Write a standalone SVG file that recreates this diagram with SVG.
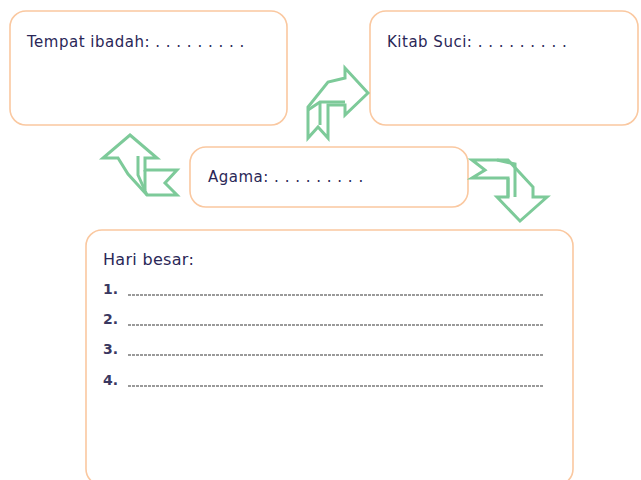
<svg xmlns="http://www.w3.org/2000/svg" width="641" height="480" viewBox="0 0 641 480">
<style>
.box{fill:#fff;stroke:#fac8a0;stroke-width:1.6}
.t{font-family:"DejaVu Sans",sans-serif;font-size:15px;letter-spacing:0.5px;fill:#2a2757}
.num{font-family:"DejaVu Sans",sans-serif;font-size:14px;font-weight:bold;fill:#3a3860}
.ln{stroke:#7a7a7a;stroke-width:1.4;stroke-dasharray:3 1}
.arr{fill:#fff;stroke:#7dca99;stroke-width:3;stroke-linejoin:miter}
.fold{fill:none;stroke:#7dca99;stroke-width:3}
</style>
<rect width="641" height="480" fill="#fff"/>
<g id="tempat">
<rect class="box" x="10" y="11" width="277" height="114" rx="16"/>
<text class="t" x="27" y="47">Tempat ibadah: . . . . . . . . .</text>
</g>
<g id="kitab">
<rect class="box" x="370" y="11" width="268" height="114" rx="16"/>
<text class="t" x="387" y="47">Kitab Suci: . . . . . . . . .</text>
</g>
<g id="agama">
<rect class="box" x="190" y="147" width="278" height="60" rx="16"/>
<text class="t" x="208" y="182">Agama: . . . . . . . . .</text>
</g>
<g id="hari">
<rect class="box" x="86" y="230" width="487" height="255" rx="16"/>
<text class="t" x="103" y="265" style="font-size:16px;letter-spacing:0.3px">Hari besar:</text>
<text class="num" x="103" y="294">1.</text>
<text class="num" x="103" y="324">2.</text>
<text class="num" x="103" y="354">3.</text>
<text class="num" x="103" y="385">4.</text>
<line class="ln" x1="128" y1="295" x2="543" y2="295"/>
<line class="ln" x1="128" y1="325" x2="543" y2="325"/>
<line class="ln" x1="128" y1="355" x2="543" y2="355"/>
<line class="ln" x1="128" y1="386" x2="543" y2="386"/>
</g>
<g id="connectors">
<g id="arrow-tempat">
<polygon class="arr" points="130,135 157,158 145,158 145,170 177,170 165,183 177,195 147,195 128,174 118,158 103,158"/>
<polyline class="fold" points="138,156 138,175 147,195"/>
<line class="fold" x1="145" y1="170" x2="145" y2="190"/>
</g>
<g id="arrow-kitab">
<polygon class="arr" points="368,93 345,68 345,78 328,82 308,107 308,138 318,127 328,138 328,105 345,105 345,115"/>
<polyline class="fold" points="308,110 320,102 345,102"/>
<line class="fold" x1="320" y1="102" x2="320" y2="125"/>
</g>
<g id="arrow-hari">
<polygon class="arr" points="472,160 485,170 472,178 508,178 508,197 497,197 520,221 547,197 533,197 533,187 508,160"/>
<line class="fold" x1="508" y1="178" x2="508" y2="197"/>
<polyline class="fold" points="497,160 515,164 515,197"/>
</g>
</g>
</svg>
